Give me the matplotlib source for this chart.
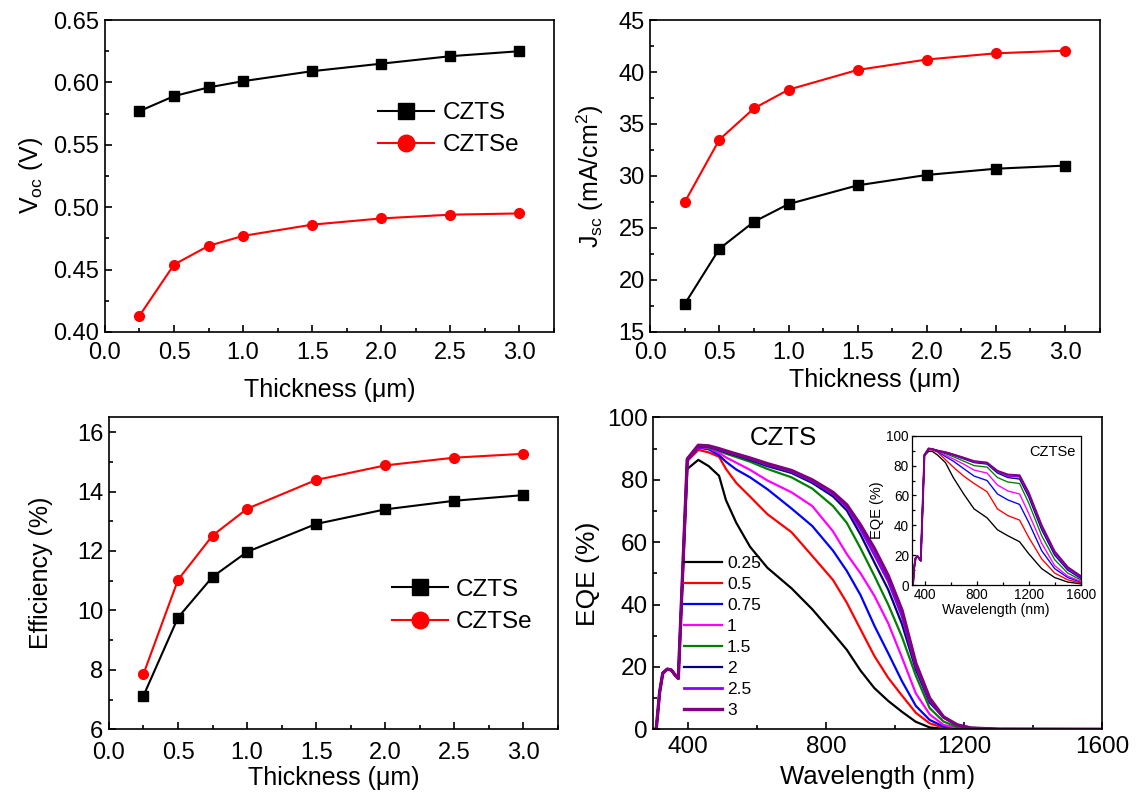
import matplotlib
matplotlib.use("Agg")
import matplotlib.pyplot as plt
from matplotlib.ticker import MultipleLocator, FormatStrFormatter

plt.rcParams['font.family'] = ['Liberation Sans', 'DejaVu Sans']
plt.rcParams['mathtext.default'] = 'regular'

# ---------------- data ----------------
thickness = [0.25, 0.5, 0.75, 1.0, 1.5, 2.0, 2.5, 3.0]
voc_czts = [0.577, 0.589, 0.596, 0.601, 0.609, 0.615, 0.621, 0.625]
voc_cztse = [0.413, 0.454, 0.469, 0.477, 0.486, 0.491, 0.494, 0.495]
jsc_czts = [17.7, 23.0, 25.6, 27.3, 29.1, 30.1, 30.7, 31.0]
jsc_cztse = [27.5, 33.5, 36.5, 38.3, 40.2, 41.2, 41.8, 42.05]
eff_czts = [7.13, 9.76, 11.13, 11.97, 12.91, 13.40, 13.69, 13.88]
eff_cztse = [7.86, 11.03, 12.52, 13.42, 14.39, 14.88, 15.14, 15.27]

wavelength = [300, 308, 318, 327, 340, 352, 362, 372, 398, 430, 460, 490, 510,
              540, 580, 630, 700, 760, 820, 860, 900, 940, 980, 1020, 1060,
              1100, 1140, 1180, 1220, 1300, 1600]
uv_part = [0, 0, 12, 18, 19.3, 19, 17.5, 16.3]
eqe_labels = ['0.25', '0.5', '0.75', '1', '1.5', '2', '2.5', '3']
eqe_025 = uv_part + [83.5, 86.4, 84.4, 81.3, 73.5, 66.2, 58.5, 51.8, 45.2, 38.5, 30.8,
                     25.5, 18.8, 13.2, 9.1, 5.6, 2.4, 0.6, 0.15, 0.05, 0, 0, 0]
eqe_05 = uv_part + [86.0, 89.6, 88.8, 87.4, 83.5, 79.0, 74.6, 69.0, 63.2, 55.6, 47.9,
                    40.6, 32.0, 23.5, 16.5, 10.8, 5.3, 1.9, 0.5, 0.15, 0.05, 0, 0]
eqe_075 = uv_part + [86.2, 90.3, 89.8, 87.9, 85.8, 83.3, 80.8, 77.0, 70.8, 65.2, 57.3,
                     50.8, 43.0, 33.2, 24.4, 15.4, 7.5, 3.0, 0.9, 0.2, 0.05, 0, 0]
eqe_1 = uv_part + [86.3, 90.5, 90.2, 88.7, 87.2, 85.5, 83.2, 79.8, 76.0, 71.6, 63.5,
                   56.2, 50.0, 42.8, 34.0, 23.0, 11.5, 4.8, 1.4, 0.4, 0.1, 0, 0]
eqe_15 = uv_part + [86.4, 90.7, 90.4, 89.3, 88.4, 87.3, 85.8, 83.5, 80.8, 77.2, 71.6,
                    66.2, 58.0, 49.2, 40.0, 29.6, 17.2, 6.8, 2.5, 0.7, 0.2, 0, 0]
eqe_2 = uv_part + [86.5, 90.8, 90.6, 89.6, 88.8, 87.8, 86.4, 84.4, 82.2, 79.0, 74.7,
                   70.2, 62.4, 53.5, 44.8, 33.7, 19.2, 8.6, 3.8, 1.3, 0.4, 0.05, 0]
eqe_25 = uv_part + [86.6, 91.0, 90.8, 89.8, 89.1, 88.1, 86.8, 84.9, 82.7, 79.6, 75.5,
                    71.3, 64.2, 56.0, 47.5, 36.3, 20.3, 9.3, 3.9, 1.4, 0.4, 0.05, 0]
eqe_3 = uv_part + [86.7, 91.1, 90.9, 90.0, 89.3, 88.3, 87.0, 85.2, 83.0, 80.0, 76.0,
                   72.0, 65.5, 58.0, 49.3, 38.2, 21.2, 10.0, 4.0, 1.4, 0.4, 0.05, 0]

# inset CZTSe EQE
wl_inset = [300, 310, 320, 330, 345, 360, 370, 398, 430, 460, 500, 560, 620, 700,
            780, 880, 960, 1040, 1130, 1200, 1300, 1400, 1500, 1600]
uv_inset = [0, 0, 12, 18, 19.3, 17.5, 16.3]
cztse_025 = uv_inset + [86.5, 89.5, 89.5, 87, 82, 72, 61, 51, 45, 37, 33, 29, 21, 11, 5, 2, 0.8]
cztse_05 = uv_inset + [87, 90.5, 90.5, 89, 84, 79, 73, 68, 62.5, 51, 46.5, 43.5, 32, 17.5, 8, 3.5, 1.3]
cztse_075 = uv_inset + [87, 91, 91, 89.5, 86, 83, 78, 73, 70, 61, 57, 54, 42, 23, 11, 5, 2]
cztse_1 = uv_inset + [87, 91, 91, 89.8, 87, 84.5, 81, 77, 75, 67, 63, 61, 48, 28, 13, 6, 2.5]
cztse_15 = uv_inset + [87, 91, 91, 90, 88, 86, 83, 80, 79, 72, 69, 68, 55, 33, 17, 8, 3.5]
cztse_2 = uv_inset + [87, 91, 91, 90, 88.5, 87, 84.5, 82, 81, 75, 72, 71, 59, 37, 20, 10, 4.5]
cztse_25 = uv_inset + [87, 91.3, 91, 90, 88.8, 87.3, 85, 82.5, 81.7, 76, 73, 72.5, 61, 39, 21.5, 11, 5.2]
cztse_3 = uv_inset + [87, 91.5, 91, 90, 89, 87.5, 85.3, 83, 82, 76.5, 74, 73.5, 62, 40, 22.5, 12, 6]

eqe_colors = ['#000000', '#ff0000', '#0000ff', '#ff00ff', '#008000', '#000080', '#8a00ff', '#800080']
eqe_widths = [1.6, 1.6, 1.6, 1.6, 1.6, 1.6, 2.0, 2.4]

# ---------------- figure ----------------
fig = plt.figure(figsize=(11.42, 7.94), dpi=100)

ax1 = fig.add_axes([0.0919, 0.5819, 0.3932, 0.3929])
ax2 = fig.add_axes([0.5694, 0.5819, 0.3935, 0.3929])
ax3 = fig.add_axes([0.0954, 0.0815, 0.3932, 0.3930])
ax4 = fig.add_axes([0.5722, 0.0815, 0.3930, 0.3927])
ax5 = fig.add_axes([0.7983, 0.2632, 0.1480, 0.1880])

TICK_FS = 17
LABEL_FS = 18


def style(ax, fs=TICK_FS, major=5, minor=3, lw=1.2, xpad=7, ypad=4):
    for s in ax.spines.values():
        s.set_linewidth(lw)
    ax.tick_params(which='both', direction='in', top=False, right=False,
                   width=lw, labelsize=fs)
    ax.tick_params(axis='x', which='both', pad=xpad)
    ax.tick_params(axis='y', which='both', pad=ypad)
    ax.tick_params(which='major', length=major)
    ax.tick_params(which='minor', length=minor)


def thick_panel(ax, y1, y2, ylim, major, ylabel, xlabelpad, ylabelpad,
                legend_pos=None, xpad=7):
    ax.plot(thickness, y1, '-s', color='black', lw=1.5, ms=6.5, label='CZTS')
    ax.plot(thickness, y2, '-o', color='red', lw=1.5, ms=7, label='CZTSe')
    ax.set_xlim(0, 3.25)
    ax.set_ylim(*ylim)
    ax.xaxis.set_major_locator(MultipleLocator(0.5))
    ax.xaxis.set_minor_locator(MultipleLocator(0.25))
    ax.yaxis.set_major_locator(MultipleLocator(major))
    ax.yaxis.set_minor_locator(MultipleLocator(major / 2))
    ax.xaxis.set_major_formatter(FormatStrFormatter('%.1f'))
    style(ax, xpad=xpad)
    ax.set_xlabel('Thickness (\u03bcm)', fontsize=LABEL_FS, labelpad=xlabelpad)
    ax.set_ylabel(ylabel, fontsize=LABEL_FS, labelpad=ylabelpad)
    if legend_pos is not None:
        ax.legend(loc='center left', bbox_to_anchor=legend_pos, frameon=False,
                  fontsize=17.5, markerscale=1.7, handlelength=2.3,
                  handletextpad=0.35, labelspacing=0.42, borderpad=0, borderaxespad=0)


thick_panel(ax1, voc_czts, voc_cztse, (0.40, 0.65), 0.05, 'V$_{oc}$ (V)', 10, 6,
            (0.608, 0.65))
ax1.yaxis.set_major_formatter(FormatStrFormatter('%.2f'))
thick_panel(ax2, jsc_czts, jsc_cztse, (15, 45), 5, 'J$_{sc}$ (mA/cm$^{2}$)', 3, 9)
ax2.yaxis.set_major_formatter(FormatStrFormatter('%d'))
thick_panel(ax3, eff_czts, eff_cztse, (6, 16.5), 2, 'Efficiency (%)', 1, 17,
            (0.63, 0.395), xpad=9.5)
ax3.yaxis.set_major_formatter(FormatStrFormatter('%d'))

# EQE main
series = [eqe_025, eqe_05, eqe_075, eqe_1, eqe_15, eqe_2, eqe_25, eqe_3]
for lab, ys, c, w in zip(eqe_labels, series, eqe_colors, eqe_widths):
    ax4.plot(wavelength, ys, color=c, lw=w, label=lab)
ax4.set_xlim(300, 1600)
ax4.set_ylim(0, 100)
ax4.xaxis.set_major_locator(MultipleLocator(400))
ax4.xaxis.set_minor_locator(MultipleLocator(200))
ax4.yaxis.set_major_locator(MultipleLocator(20))
ax4.yaxis.set_minor_locator(MultipleLocator(10))
style(ax4, fs=17.5, xpad=5)
ax4.set_xlabel('Wavelength (nm)', fontsize=18.5, labelpad=5)
ax4.set_ylabel('EQE (%)', fontsize=19, labelpad=5)
ax4.text(0.29, 0.935, 'CZTS', transform=ax4.transAxes, fontsize=18.5,
         ha='center', va='center')
ax4.legend(loc='lower left', bbox_to_anchor=(0.067, 0.035), frameon=False,
           fontsize=12.5, handlelength=2.2, handletextpad=0.3, labelspacing=0.34,
           borderpad=0, borderaxespad=0)

# inset
inset_series = [cztse_025, cztse_05, cztse_075, cztse_1, cztse_15, cztse_2, cztse_25, cztse_3]
for ys, c, w in zip(inset_series, eqe_colors, eqe_widths):
    ax5.plot(wl_inset, ys, color=c, lw=w * 0.6)
ax5.set_xlim(300, 1600)
ax5.set_ylim(0, 100)
ax5.xaxis.set_major_locator(MultipleLocator(400))
ax5.xaxis.set_minor_locator(MultipleLocator(200))
ax5.yaxis.set_major_locator(MultipleLocator(20))
ax5.yaxis.set_minor_locator(MultipleLocator(10))
style(ax5, fs=9.8, major=3, minor=2, lw=0.9, xpad=2, ypad=2)
ax5.set_xlabel('Wavelength (nm)', fontsize=10.2, labelpad=1)
ax5.set_ylabel('EQE (%)', fontsize=10.5, labelpad=2)
ax5.text(0.83, 0.89, 'CZTSe', transform=ax5.transAxes, fontsize=10.5,
         ha='center', va='center')

fig.savefig('out.png', dpi=100)
